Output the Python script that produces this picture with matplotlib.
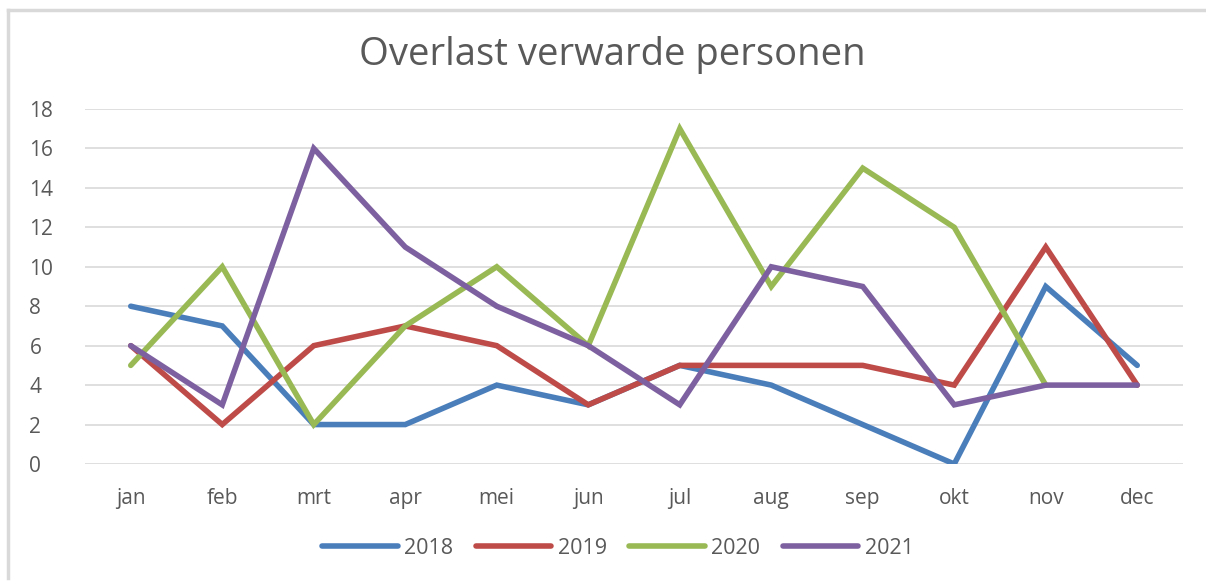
import numpy as np
import matplotlib
matplotlib.use("Agg")
import matplotlib.pyplot as plt
from matplotlib.lines import Line2D

plt.rcParams['font.family'] = ['Open Sans', 'DejaVu Sans']

months = ['jan', 'feb', 'mrt', 'apr', 'mei', 'jun', 'jul', 'aug', 'sep', 'okt', 'nov', 'dec']
years = ['2018', '2019', '2020', '2021']
vals_2018 = [8, 7, 2, 2, 4, 3, 5, 4, 2, 0, 9, 5]
vals_2019 = [6, 2, 6, 7, 6, 3, 5, 5, 5, 4, 11, 4]
vals_2020 = [5, 10, 2, 7, 10, 6, 17, 9, 15, 12, 4, np.nan]
vals_2021 = [6, 3, 16, 11, 8, 6, 3, 10, 9, 3, 4, 4]
colors = ['#4A7EBB', '#BE4B48', '#98B954', '#7D60A0']

W, H = 1206, 581
fig = plt.figure(figsize=(W / 100, H / 100), dpi=100)

# chart frame (top and left edges visible in the crop)
fig.add_artist(Line2D([8 / W, 8 / W], [1 - 578 / H, 1 - 10 / H], color='#D9D9D9', lw=2.5))
fig.add_artist(Line2D([8 / W, 1.0], [1 - 10 / H, 1 - 10 / H], color='#D9D9D9', lw=2.5))

ax = fig.add_axes([85 / W, 1 - 464 / H, (1183 - 85) / W, (464 - 109) / H])

x = np.arange(len(months))
for vals, col, lab in zip([vals_2018, vals_2019, vals_2020, vals_2021], colors, years):
    ax.plot(x, vals, color=col, lw=4, label=lab, solid_joinstyle='miter', solid_capstyle='round')

ax.set_xlim(-0.5, len(months) - 0.5)
ax.set_ylim(0, 18)
ax.set_yticks(range(0, 19, 2))
ax.set_xticks(x)
ax.set_xticklabels(months)
ax.grid(axis='y', color='#D9D9D9', lw=1.2)
ax.set_axisbelow(True)
for s in ax.spines.values():
    s.set_visible(False)
ax.tick_params(length=0, labelsize=15, labelcolor='#595959')
ax.tick_params(axis='y', pad=40)
ax.tick_params(axis='x', pad=17)
for t in ax.get_yticklabels():
    t.set_horizontalalignment('left')

fig.text(612 / W, 1 - 55 / H, 'Overlast verwarde personen', ha='center', va='center',
         fontsize=27.5, color='#595959')

leg = fig.legend(loc='center', bbox_to_anchor=(618 / W, 1 - 548 / H), ncol=4, frameon=False,
                 fontsize=15.5, handlelength=3.5, handletextpad=0.3, columnspacing=1.05)
for t in leg.get_texts():
    t.set_color('#595959')

fig.savefig('out.png', dpi=100)
